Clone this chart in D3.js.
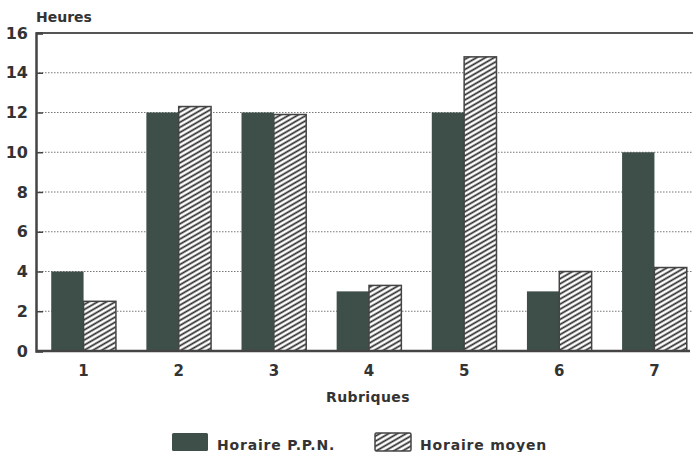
<!DOCTYPE html>
<html><head><meta charset="utf-8">
<script src="https://cdn.jsdelivr.net/npm/d3@7"></script>
<style>
body{margin:0;background:#fff;}
svg{display:block;}
text{font-family:"DejaVu Sans",sans-serif;fill:#333;}
</style></head>
<body>
<svg id="c" width="693" height="452"></svg>
<script>
const categories = ["1","2","3","4","5","6","7"];
const seriesNames = ["Horaire P.P.N.","Horaire moyen"];
const ppn = [4, 12, 12, 3, 12, 3, 10];
const moyen = [2.5, 12.3, 11.9, 3.3, 14.8, 4.0, 4.2];
const yTicks = [0,2,4,6,8,10,12,14,16];

(function(){
const svg = d3.select("#c");
const defs = svg.append("defs");
const pat = defs.append("pattern").attr("id","hatch").attr("patternUnits","userSpaceOnUse")
  .attr("width",10).attr("height",4.4).attr("patternTransform","rotate(-30)");
pat.append("rect").attr("width",10).attr("height",4.4).attr("fill","#fff");
pat.append("line").attr("x1",0).attr("y1",2.2).attr("x2",10).attr("y2",2.2)
  .attr("stroke","#2a2a2a").attr("stroke-width",1.7);

const pL = 36, pR = 702, pT = 33, pB = 351;
const x = d3.scaleBand().domain(categories).range([pL,pR]).paddingInner(0.32).paddingOuter(0.16);
const xs = d3.scaleBand().domain(seriesNames).range([0,x.bandwidth()]);
const y = d3.scaleLinear().domain([0,16]).range([pB,pT]);

// gridlines
svg.append("g").selectAll("line").data(yTicks.filter(t=>t>0&&t<16)).join("line")
  .attr("x1",pL).attr("x2",693).attr("y1",d=>y(d)).attr("y2",d=>y(d))
  .attr("stroke","#777").attr("stroke-width",1).attr("stroke-dasharray","1.5,1.5");
svg.append("line").attr("x1",pL).attr("x2",693).attr("y1",y(16)).attr("y2",y(16))
  .attr("stroke","#555").attr("stroke-width",2);

// bars
const g = svg.append("g");
g.selectAll("rect.p").data(ppn).join("rect").attr("class","p")
  .attr("x",(d,i)=>x(categories[i])+xs(seriesNames[0]))
  .attr("width",xs.bandwidth())
  .attr("y",d=>y(d)).attr("height",d=>y(0)-y(d))
  .attr("fill","#3e4f4a");
g.selectAll("rect.m").data(moyen).join("rect").attr("class","m")
  .attr("x",(d,i)=>x(categories[i])+xs(seriesNames[1]))
  .attr("width",xs.bandwidth())
  .attr("y",d=>y(d)).attr("height",d=>y(0)-y(d))
  .attr("fill","url(#hatch)").attr("stroke","#444").attr("stroke-width",1.5);

// y axis
const ya = svg.append("g").attr("transform",`translate(${pL},0)`)
  .call(d3.axisLeft(y).tickValues(yTicks).tickSize(-7).tickPadding(8).tickFormat(d3.format("d")));
ya.select(".domain").attr("stroke","#444").attr("stroke-width",2.5);
ya.selectAll(".tick line").attr("stroke","#444").attr("stroke-width",1.5);
ya.selectAll(".tick text").attr("font-size",16).attr("font-weight","bold")
  .style("fill","#333").style("font-family","'DejaVu Sans',sans-serif");

// x axis
svg.append("line").attr("x1",pL).attr("x2",690).attr("y1",pB).attr("y2",pB)
  .attr("stroke","#444").attr("stroke-width",2.5);
const xa = svg.append("g").attr("transform",`translate(0,${pB})`)
  .call(d3.axisBottom(x).tickSize(0).tickPadding(14));
xa.select(".domain").remove();
xa.selectAll(".tick text").attr("font-size",15).attr("font-weight","bold")
  .style("fill","#333").style("font-family","'DejaVu Sans',sans-serif");

svg.append("text").attr("x",36).attr("y",22).attr("font-size",14).attr("font-weight","bold").text("Heures");
svg.append("text").attr("x",368).attr("y",402).attr("text-anchor","middle")
  .attr("font-size",14).attr("font-weight","bold").attr("letter-spacing",0.4).text("Rubriques");

// legend
const leg = [{name:seriesNames[0],x:172,fill:"#3e4f4a"},{name:seriesNames[1],x:375,fill:"url(#hatch)"}];
const lg = svg.append("g").selectAll("g").data(leg).join("g");
lg.append("rect").attr("x",d=>d.x).attr("y",433).attr("width",36).attr("height",18)
  .attr("fill",d=>d.fill).attr("stroke",d=>d.fill.startsWith("url")?"#444":"none").attr("stroke-width",1.5).attr("rx",1.5);
lg.append("text").attr("x",d=>d.x+45).attr("y",450).attr("font-size",14).attr("font-weight","bold")
  .attr("letter-spacing",0.8).text(d=>d.name);
})();
</script>
</body></html>
